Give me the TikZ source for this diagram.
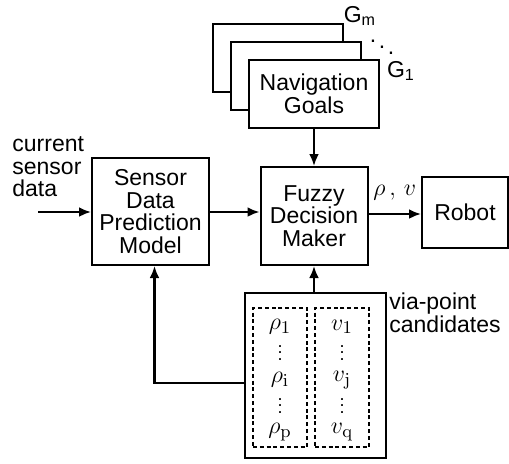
\documentclass[tikz,border=0pt]{standalone}
\usepackage[no-math]{fontspec}
\usepackage{amsmath, amssymb}
\setmainfont{Liberation Sans}
\usetikzlibrary{arrows.meta}
\newcommand{\coldots}{\vbox{\baselineskip3.3pt\lineskiplimit0pt\hbox{.}\hbox{.}\hbox{.}}}

\begin{document}
\begin{tikzpicture}[x=0.5pt,y=-0.5pt,
    font=\fontsize{11.5}{11.3}\selectfont,
    block/.style={draw,line width=1pt,fill=white,inner sep=0pt,align=center},
    col/.style={draw,line width=1pt,dash pattern=on 2pt off 1.4pt,inner sep=0pt},
    entry/.style={inner sep=0pt,font=\fontsize{13}{13}\selectfont},
    flow/.style={line width=1.4pt,-{Latex[length=6pt,width=5pt]}}]
      \useasboundingbox (0,0) rectangle (509,463);
      % goal stack
      \node [block,minimum width=65pt,minimum height=34pt] (Gm) at (278,57.5) {};
      \node [block,minimum width=65pt,minimum height=34pt] (Gk) at (296,75.5) {};
      \node [block,minimum width=65pt,minimum height=34pt] (Nav) at (314,93.5) {Navigation\\Goals};
      \node (Lm) at (360,16) {G\textsubscript{m}};
      \node [inner sep=0pt] (Ld) at (382,41) {$\ddots$};
      \node (L1) at (401,71) {G\textsubscript{1}};
      % main blocks
      \node [block,minimum width=58.5pt,minimum height=53.5pt] (S) at (150.5,211.5) {Sensor\\Data\\Prediction\\Model};
      \node [block,minimum width=53.5pt,minimum height=49pt] (F) at (314,216) {Fuzzy\\Decision\\Maker};
      \node [block,minimum width=43pt,minimum height=35.5pt] (R) at (465,212.5) {Robot};
      \node [align=left,anchor=west,inner sep=0pt] (cur) at (12,167) {current\\sensor\\data};
      \coordinate (in) at (38,212);
      % via-point candidates
      \node [block,minimum width=70.5pt,minimum height=82.5pt] (V) at (315.5,375.5) {};
      \node [col,minimum width=27pt,minimum height=69.5pt] (Pc) at (280,377.5) {};
      \node [col,minimum width=27pt,minimum height=69.5pt] (Vc) at (342,377.5) {};
      \foreach \t/\y [count=\k] in {\rho_{\mathrm{1}}/327,\rho_{\mathrm{i}}/380,\rho_{\mathrm{p}}/432}
        \node [entry] (p\k) at (280,\y) {$\t$};
      \foreach \t/\y [count=\k] in {v_{\mathrm{1}}/327,v_{\mathrm{j}}/380,v_{\mathrm{q}}/432}
        \node [entry] (v\k) at (342,\y) {$\t$};
      \foreach \x/\n in {280/p,342/v} {
        \node [inner sep=0pt,font=\fontsize{9}{9}\selectfont] (\n d1) at (\x,353) {\coldots};
        \node [inner sep=0pt,font=\fontsize{9}{9}\selectfont] (\n d2) at (\x,406) {\coldots};
      }
      \node [align=left,anchor=west,inner sep=0pt] (via) at (389,313) {via-point\\candidates};
      \coordinate (fb) at (245,383);
      % connections
      \draw [flow] (in) -- (S.west |- in);
      \draw [flow] (S.east |- in) -- (F.west |- in);
      \draw [flow] (F.east |- 0,214) -- node [above,yshift=3pt] (out) {$\rho\,,\,v$} (R.west |- 0,214);
      \draw [flow] (Nav) -- (F);
      \draw [flow] (V.north -| F.south) -- (F.south);
      \draw [flow] (fb) -| ([xshift=2pt]S.south);
    \end{tikzpicture}
\end{document}
